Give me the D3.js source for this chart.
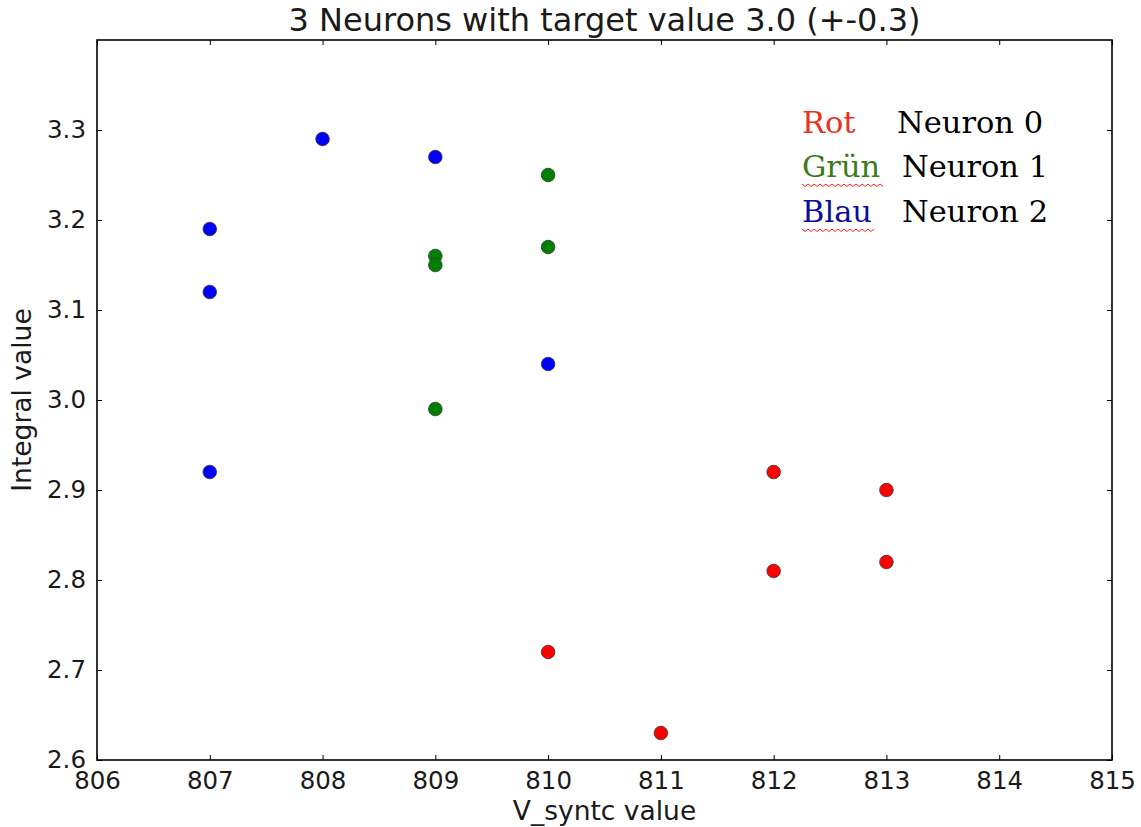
<!DOCTYPE html>
<html>
<head>
<meta charset="utf-8">
<script src="https://cdn.jsdelivr.net/npm/d3@7"></script>
<style>
  html, body { margin: 0; padding: 0; background: #fff; }
  svg { display: block; }
</style>
</head>
<body>
<svg id="chart" width="1141" height="827"></svg>
<script>
// ---- data ----
const xTicks = [806, 807, 808, 809, 810, 811, 812, 813, 814, 815];
const yTicks = [2.6, 2.7, 2.8, 2.9, 3.0, 3.1, 3.2, 3.3];
const neuron0X = [810, 811, 812, 812, 813, 813];
const neuron0Y = [2.72, 2.63, 2.92, 2.81, 2.90, 2.82];
const neuron1X = [809, 809, 809, 810, 810];
const neuron1Y = [3.16, 3.15, 2.99, 3.25, 3.17];
const neuron2X = [807, 807, 807, 808, 809, 810];
const neuron2Y = [3.19, 3.12, 2.92, 3.29, 3.27, 3.04];
const legendWords = ["Rot", "Grün", "Blau"];
const legendNames = ["Neuron 0", "Neuron 1", "Neuron 2"];
const titleText = "3 Neurons with target value 3.0 (+-0.3)";
const xLabel = "V_syntc value";
const yLabel = "Integral value";

const series = [
  { xs: neuron0X, ys: neuron0Y, color: "#ff0000" },
  { xs: neuron1X, ys: neuron1Y, color: "#008000" },
  { xs: neuron2X, ys: neuron2Y, color: "#0000ff" }
];
const legendColors = ["#e8321c", "#3e7a1a", "#0a0f9a"];

// ---- layout ----
const mL = 97, mR = 1112, mT = 40, mB = 760;
const svg = d3.select("#chart");
const x = d3.scaleLinear().domain([806, 815]).range([mL, mR]);
const y = d3.scaleLinear().domain([2.6, 3.4]).range([mB, mT]);
const font = "'DejaVu Sans', sans-serif";
const txt = "#1a1a1a";

// ticks (inside, mirrored)
const tickLen = 5;
const g = svg.append("g");
const bx = d3.axisBottom(x).tickValues(xTicks).tickSize(-tickLen).tickPadding(12).tickFormat(d3.format("d"));
const tx = d3.axisTop(x).tickValues(xTicks).tickSize(-tickLen).tickFormat("");
const ly = d3.axisLeft(y).tickValues(yTicks).tickSize(-tickLen).tickPadding(11).tickFormat(d3.format(".1f"));
const ry = d3.axisRight(y).tickValues(yTicks).tickSize(-tickLen).tickFormat("");
function styleAxis(sel) {
  sel.select(".domain").remove();
  sel.attr("font-family", null).attr("font-size", null);
  sel.selectAll(".tick line").attr("stroke", "#000").attr("stroke-width", 1);
  sel.selectAll(".tick text").attr("fill", txt).style("font-family", font).style("font-size", "24.5px");
}
g.append("g").attr("transform", `translate(0,${mB})`).call(bx).call(styleAxis);
g.append("g").attr("transform", `translate(0,${mT})`).call(tx).call(styleAxis);
g.append("g").attr("transform", `translate(${mL},0)`).call(ly).call(styleAxis);
g.append("g").attr("transform", `translate(${mR},0)`).call(ry).call(styleAxis);

// frame
svg.append("rect").attr("x", mL).attr("y", mT).attr("width", mR - mL).attr("height", mB - mT)
  .attr("fill", "none").attr("stroke", "#000").attr("stroke-width", 1.6);

// points
series.forEach(s => {
  svg.append("g").selectAll("circle").data(s.xs.map((v, i) => [v, s.ys[i]])).join("circle")
    .attr("cx", d => x(d[0])).attr("cy", d => y(d[1])).attr("r", 6.8)
    .attr("fill", s.color).attr("stroke", "#333").attr("stroke-width", 0.8);
});

// title and labels
svg.append("text").attr("x", (mL + mR) / 2).attr("y", 31).attr("text-anchor", "middle")
  .style("font-family", font).style("font-size", "32px").attr("fill", txt).text(titleText);
svg.append("text").attr("x", (mL + mR) / 2).attr("y", 820).attr("text-anchor", "middle")
  .style("font-family", font).style("font-size", "26.5px").attr("fill", txt).text(xLabel);
svg.append("text").attr("transform", `translate(31,${(mT + mB) / 2}) rotate(-90)`).attr("text-anchor", "middle")
  .style("font-family", font).style("font-size", "26.5px").attr("fill", txt).text(yLabel);

// legend (text box)
const lg = svg.append("g");
const lf = "'DejaVu Serif', serif";
const rowY = [133, 177, 222];
const nameX = [897, 902, 902];
legendWords.forEach((w, i) => {
  const t = lg.append("text").attr("x", 802).attr("y", rowY[i]).style("font-family", lf).style("font-size", "30.5px")
    .attr("fill", legendColors[i]).text(w);
  lg.append("text").attr("x", nameX[i]).attr("y", rowY[i]).style("font-family", lf).style("font-size", "30.5px")
    .attr("fill", "#000").text(legendNames[i]);
  if (i > 0) {
    const wbox = t.node().getBBox();
    const x0 = wbox.x, x1 = wbox.x + wbox.width, yy = rowY[i] + 7;
    let p = `M${x0},${yy}`;
    for (let xx = x0, k = 0; xx < x1; xx += 3, k++) p += ` L${xx + 3},${yy + (k % 2 ? 0 : 2.5)}`;
    lg.append("path").attr("d", p).attr("fill", "none").attr("stroke", "#ff2020").attr("stroke-width", 1);
  }
});
</script>
</body>
</html>
